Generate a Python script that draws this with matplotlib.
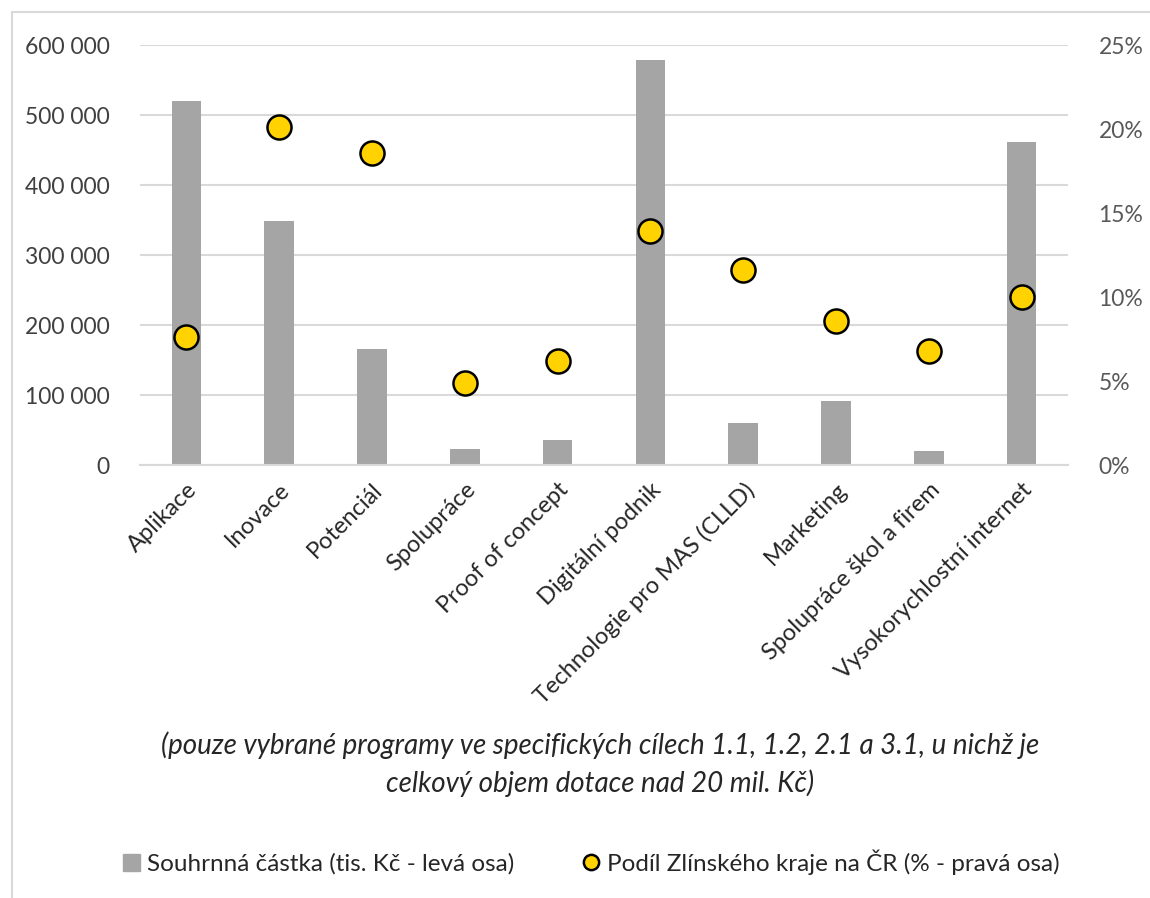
import matplotlib.pyplot as plt
import numpy as np
from matplotlib.lines import Line2D
from matplotlib.patches import Patch

programy = ["Aplikace", "Inovace", "Potenciál", "Spolupráce", "Proof of concept",
            "Digitální podnik", "Technologie pro MAS (CLLD)", "Marketing",
            "Spolupráce škol a firem", "Vysokorychlostní internet"]
castka = [520000, 348000, 166000, 23000, 35500, 578000, 60000, 91500, 20000, 461000]
podil = [7.6, 20.1, 18.6, 4.9, 6.2, 13.9, 11.6, 8.6, 6.8, 10.0]

left_ticks = [0, 100000, 200000, 300000, 400000, 500000, 600000]
right_ticks = [0, 5, 10, 15, 20, 25]

plt.rcParams['font.family'] = ['Lato', 'DejaVu Sans']

fig = plt.figure(figsize=(11.5, 8.98), dpi=100)
ax = fig.add_axes([140 / 1150, 1 - 465 / 898, 928 / 1150, 420 / 898])
ax2 = ax.twinx()

x = np.arange(len(programy))
ax.bar(x, castka, width=0.32, color="#A5A5A5", zorder=2)
ax2.scatter(x, podil, s=300, color="#FFD200", edgecolor="black", linewidth=1.8, zorder=3)

ax.set_xlim(-0.5, len(programy) - 0.5)
ax.set_ylim(0, 600000)
ax2.set_ylim(0, 25)

ax.set_yticks(left_ticks)
ax.set_yticklabels([f"{v:,}".replace(",", " ") for v in left_ticks])
ax2.set_yticks(right_ticks)
ax2.set_yticklabels([f"{v}%" for v in right_ticks])

ax.yaxis.grid(True, color="#D9D9D9", linewidth=1.5, zorder=0)
ax.set_axisbelow(True)
for a in (ax, ax2):
    for s in a.spines.values():
        s.set_visible(False)
    a.tick_params(axis="y", length=0, labelsize=16.5, pad=22)
ax.tick_params(axis="y", colors="#404040")
ax2.tick_params(axis="y", colors="#595959")
ax.spines["bottom"].set_visible(True)
ax.spines["bottom"].set_color("#D9D9D9")
ax.spines["bottom"].set_linewidth(1.5)

ax.set_xticks(x)
ax.set_xticklabels(programy, rotation=45, ha="right", rotation_mode="anchor",
                   fontsize=17, color="#262626")
ax.tick_params(axis="x", length=0, pad=10)

fig.text(0.522, 1 - 745 / 898, "(pouze vybrané programy ve specifických cílech 1.1, 1.2, 2.1 a 3.1, u nichž je",
         ha="center", va="center", fontsize=20, style="italic", color="#262626")
fig.text(0.522, 1 - 783 / 898, "celkový objem dotace nad 20 mil. Kč)",
         ha="center", va="center", fontsize=20, style="italic", color="#262626")

handles = [Patch(color="#A5A5A5"),
           Line2D([], [], marker="o", linestyle="none", markersize=11,
                  markerfacecolor="#FFD200", markeredgecolor="black", markeredgewidth=1.8)]
fig.legend(handles, ["Souhrnná částka (tis. Kč - levá osa)", "Podíl Zlínského kraje na ČR (% - pravá osa)"],
           loc="center", bbox_to_anchor=(0.514, 1 - 862 / 898), ncol=2, frameon=False,
           fontsize=17.5, handlelength=0.7, handletextpad=0.3, columnspacing=2.8, labelcolor="#262626")

# chart border (left and top edges visible)
fig.add_artist(Line2D([12 / 1150, 12 / 1150], [0, 1 - 12 / 898], transform=fig.transFigure,
                      color="#D9D9D9", linewidth=1.5))
fig.add_artist(Line2D([12 / 1150, 1], [1 - 12 / 898, 1 - 12 / 898], transform=fig.transFigure,
                      color="#D9D9D9", linewidth=1.5))

fig.savefig("out.png", dpi=100)
